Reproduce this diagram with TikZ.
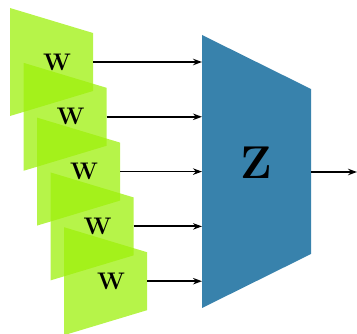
\documentclass[tikz,border=0pt]{standalone}
\usetikzlibrary{arrows.meta}
\definecolor{wgreen}{RGB}{158,240,12}
\definecolor{zblue}{RGB}{56,130,172}
\begin{document}
\begin{tikzpicture}[x=1pt,y=-1pt,
  wbox/.style={fill=wgreen, fill opacity=0.75, draw=none},
  lbl/.style={font=\bfseries\fontsize{24}{24}\selectfont, inner sep=0pt},
  zlbl/.style={font=\bfseries\fontsize{46}{46}\selectfont, inner sep=0pt},
  conn/.style={line width=1.8pt, -{Stealth[length=9pt,width=6.5pt]}}]
\useasboundingbox (0,0) rectangle (357,334);
\foreach \i in {0,...,4} {
  \pgfmathsetmacro\dx{10+13.5*\i}
  \pgfmathsetmacro\dy{8+54.8*\i}
  \path[wbox] (\dx,\dy) -- ++(83,25) -- ++(0,58) -- ++(-83,25) -- cycle;
  \node[lbl] (w\i) at (\dx+47,\dy+54) {W};
  \coordinate (o\i) at (\dx+83,\dy+54);
  \coordinate (t\i) at (202,\dy+54);
}
\path[fill=zblue] (202,35) -- (311,89) -- (311,254) -- (202,308) -- cycle;
\node[zlbl] (z) at (256,163) {Z};
\coordinate (zout) at (311,172);
\coordinate (zend) at (357,172);
\foreach \i in {0,...,4} {
  \draw[conn] (o\i) -- (t\i);
}
\draw[conn] (zout) -- (zend);
\end{tikzpicture}
\end{document}
